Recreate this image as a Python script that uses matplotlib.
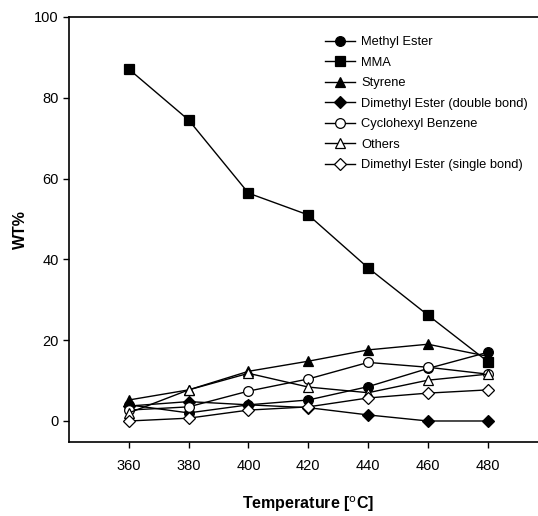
import matplotlib
matplotlib.use("Agg")
import matplotlib.pyplot as plt

plt.rcParams['font.family'] = ['Liberation Sans', 'DejaVu Sans']

# data
temperature = [360, 380, 400, 420, 440, 460, 480]
methyl_ester = [4.0, 2.0, 4.0, 5.2, 8.5, 13.0, 17.0]
mma = [87.1, 74.5, 56.4, 51.0, 37.9, 26.2, 14.7]
styrene = [5.2, 7.7, 12.3, 14.8, 17.6, 19.0, 16.0]
dimethyl_double = [3.7, 4.8, 4.0, 3.3, 1.5, 0.0, 0.0]
cyclohexyl_benzene = [2.7, 3.5, 7.4, 10.4, 14.5, 13.3, 11.6]
others = [2.0, 7.7, 11.8, 8.4, 7.0, 10.1, 11.6]
dimethyl_single = [0.0, 0.7, 2.7, 3.5, 5.7, 6.9, 7.7]

series = [
    ("Methyl Ester", methyl_ester, "o", "black"),
    ("MMA", mma, "s", "black"),
    ("Styrene", styrene, "^", "black"),
    ("Dimethyl Ester (double bond)", dimethyl_double, "D", "black"),
    ("Cyclohexyl Benzene", cyclohexyl_benzene, "o", "white"),
    ("Others", others, "^", "white"),
    ("Dimethyl Ester (single bond)", dimethyl_single, "D", "white"),
]

fig = plt.figure(figsize=(5.38, 5.16), dpi=100)
ax = fig.add_axes([69 / 538, 1 - 442 / 516, 478.6 / 538, 425 / 516])

for label, vals, marker, face in series:
    ms = 6.5 if marker == "D" else 7
    ax.plot(temperature, vals, color="black", lw=1.0, marker=marker,
            markersize=ms, markerfacecolor=face, markeredgecolor="black",
            markeredgewidth=0.9, label=label)

ax.set_xlim(340, 500)
ax.set_ylim(-5.2, 100)
ax.set_xticks(temperature)
ax.set_yticks([0, 20, 40, 60, 80, 100])
ax.spines["right"].set_visible(False)
ax.tick_params(direction="out", length=4.5, width=1, labelsize=10.5)
ax.tick_params(axis="x", pad=8)
ax.tick_params(axis="y", pad=3)
for s in ["left", "bottom", "top"]:
    ax.spines[s].set_linewidth(1.2)

ax.set_xlabel(r"Temperature [$^{\mathrm{o}}$C]", fontsize=11.5, fontweight="bold", labelpad=15)
ax.set_ylabel("WT%", fontsize=11.5, fontweight="bold", labelpad=4)

ax.legend(loc="upper left", bbox_to_anchor=(325 / 538, 1 - 36 / 516),
          bbox_transform=fig.transFigure, frameon=False, fontsize=9.3,
          handlelength=2.3, handletextpad=0.5, labelspacing=0.66,
          borderpad=0, borderaxespad=0)

fig.savefig("out.png", dpi=100)
